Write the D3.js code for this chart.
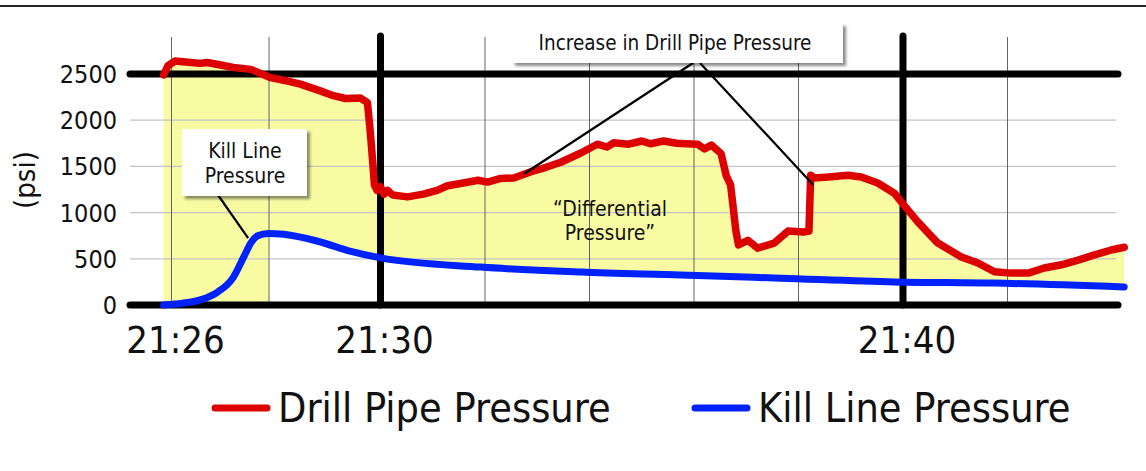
<!DOCTYPE html>
<html>
<head>
<meta charset="utf-8">
<script src="https://cdn.jsdelivr.net/npm/d3@7"></script>
<style>
  body { margin: 0; background: #fff; }
  text { font-family: "DejaVu Sans Condensed", "DejaVu Sans", sans-serif; fill: #111; }
</style>
</head>
<body>
<script>
"use strict";

// drill pipe pressure (psi)
var drillTimes = ["21:25:51","21:25:56","21:26:04","21:26:16","21:26:33","21:26:41","21:26:55","21:27:11","21:27:31","21:27:54",
  "21:28:10","21:28:28","21:28:50","21:29:06","21:29:20","21:29:37","21:29:45","21:29:48","21:29:51","21:29:53",
  "21:29:56","21:30:00","21:30:04","21:30:08","21:30:14","21:30:31","21:30:49","21:31:05","21:31:17","21:31:35",
  "21:31:52","21:32:03","21:32:18","21:32:33","21:32:52","21:33:10","21:33:27","21:33:50","21:34:09","21:34:20",
  "21:34:28","21:34:45","21:35:00","21:35:10","21:35:25","21:35:40","21:36:04","21:36:12","21:36:20","21:36:31",
  "21:36:37","21:36:42","21:36:48","21:36:51","21:37:02","21:37:13","21:37:32","21:37:48","21:38:06","21:38:12",
  "21:38:14","21:38:18","21:38:34","21:38:57","21:39:12","21:39:31","21:39:50","21:40:01","21:40:17","21:40:40",
  "21:41:07","21:41:26","21:41:45","21:42:04","21:42:24","21:42:42","21:43:02","21:43:21","21:43:39","21:43:59","21:44:14"];
var drillPsi = [2490,2590,2640,2630,2615,2625,2600,2570,2550,2460,
  2430,2390,2320,2265,2235,2240,2190,1900,1560,1300,
  1240,1280,1200,1240,1190,1170,1200,1240,1290,1320,
  1350,1330,1370,1375,1440,1490,1545,1645,1740,1710,
  1755,1740,1775,1745,1775,1750,1740,1690,1730,1640,
  1400,1300,810,650,700,615,670,800,790,800,
  1405,1375,1385,1405,1385,1320,1210,1080,900,670,
  520,455,360,345,345,400,435,485,540,595,625];

// kill line pressure (psi)
var killTimes = ["21:25:51","21:26:04","21:26:33","21:26:53","21:27:11","21:27:23","21:27:31","21:27:39","21:27:51","21:28:09",
  "21:28:48","21:29:26","21:30:00","21:31:55","21:33:50","21:35:45","21:37:40","21:39:50","21:41:45","21:44:14"];
var killPsi = [0,10,55,140,300,520,670,750,775,765,
  690,580,510,410,357,325,290,250,237,195];

var yTicks = [0, 500, 1000, 1500, 2000, 2500];
var boldY = [0, 2500];
var gridTimes = ["21:26","21:27:52","21:30","21:32","21:34","21:36","21:38","21:40","21:42"];
var boldTimes = ["21:30","21:40"];
var labelTimes = ["21:26","21:30","21:40"];
var fillSplit = "21:27:52"; // fill reaches down to zero before this
var killTarget = ["21:27:28", 725];
var increaseTargets = [["21:32:45", 1420], ["21:38:17", 1300]];

var parseT = function (s) {
  return d3.timeParse(s.length > 5 ? "%H:%M:%S" : "%H:%M")(s);
};

var width = 1146, height = 471;
var plotLeft = 130, plotRight = 1118, plotTop = 36;

var svg = d3.select("body").append("svg").attr("width", width).attr("height", height);

var defs = svg.append("defs");
defs.append("filter").attr("id", "shadow").attr("x", "-10%").attr("y", "-20%").attr("width", "130%").attr("height", "160%")
  .append("feDropShadow").attr("dx", 3).attr("dy", 3).attr("stdDeviation", 1.5)
  .attr("flood-color", "#000").attr("flood-opacity", 0.45);

var xScale = d3.scaleTime().domain([parseT("21:30"), parseT("21:40")]).range([380.5, 903]);
var yScale = d3.scaleLinear().domain([0, 2500]).range([305, 74]);

var drill = drillTimes.map(function (t, i) { return { t: parseT(t), v: drillPsi[i] }; });
var kill = killTimes.map(function (t, i) { return { t: parseT(t), v: killPsi[i] }; });

var killLine = d3.line().x(function (d) { return xScale(d.t); }).y(function (d) { return yScale(d.v); }).curve(d3.curveMonotoneX);
var drillLine = d3.line().x(function (d) { return xScale(d.t); }).y(function (d) { return yScale(d.v); }).curve(d3.curveLinear);

// top rule
svg.append("line").attr("x1", 0).attr("x2", width).attr("y1", 6).attr("y2", 6).attr("stroke", "#222").attr("stroke-width", 2);

// linear lookup in a series
var valueAt = function (series, t) {
  var i = d3.bisectLeft(series.map(function (d) { return d.t; }), t);
  if (i <= 0) return series[0].v;
  if (i >= series.length) return series[series.length - 1].v;
  var a = series[i - 1], b = series[i];
  return a.v + (b.v - a.v) * (t - a.t) / (b.t - a.t);
};

// yellow differential area: down to zero before the split, down to kill line after
var splitT = parseT(fillSplit);
var splitPt = { t: splitT, v: valueAt(drill, splitT) };
var before = drill.filter(function (d) { return d.t < splitT; }).concat([splitPt]);
var after = [splitPt].concat(drill.filter(function (d) { return d.t > splitT; }));
var areaX = function (d) { return xScale(d.t); };
var areaTop = function (d) { return yScale(d.v); };
svg.append("path").datum(before)
  .attr("d", d3.area().x(areaX).y1(areaTop).y0(yScale(0)))
  .attr("fill", "#f8fba2");
svg.append("path").datum(after)
  .attr("d", d3.area().x(areaX).y1(areaTop).y0(function (d) { return yScale(valueAt(kill, d.t)); }))
  .attr("fill", "#f8fba2");

// horizontal gridlines
svg.append("g").selectAll("line").data(yTicks.filter(function (v) { return boldY.indexOf(v) < 0; })).enter().append("line")
  .attr("x1", plotLeft).attr("x2", plotRight - 2).attr("y1", function (d) { return yScale(d); }).attr("y2", function (d) { return yScale(d); })
  .attr("stroke", "#c4c4c4").attr("stroke-width", 1.2);

// vertical gridlines
svg.append("g").selectAll("line").data(gridTimes.filter(function (t) { return boldTimes.indexOf(t) < 0; })).enter().append("line")
  .attr("x1", function (d) { return xScale(parseT(d)); }).attr("x2", function (d) { return xScale(parseT(d)); })
  .attr("y1", plotTop + 1).attr("y2", yScale(0)).attr("stroke", "#666").attr("stroke-width", 1);

// bold frame lines
svg.append("g").selectAll("line").data(boldTimes).enter().append("line")
  .attr("x1", function (d) { return xScale(parseT(d)); }).attr("x2", function (d) { return xScale(parseT(d)); })
  .attr("y1", plotTop).attr("y2", yScale(0)).attr("stroke", "#000").attr("stroke-width", 7).attr("stroke-linecap", "round");
svg.append("g").selectAll("line").data(boldY).enter().append("line")
  .attr("x1", plotLeft).attr("x2", plotRight).attr("y1", function (d) { return yScale(d); }).attr("y2", function (d) { return yScale(d); })
  .attr("stroke", "#000").attr("stroke-width", 7).attr("stroke-linecap", "round");

// y axis labels
svg.append("g").selectAll("text").data(yTicks).enter().append("text")
  .attr("x", 117).attr("y", function (d) { return yScale(d); }).attr("dy", "0.36em")
  .attr("text-anchor", "end").attr("font-size", 25).text(function (d) { return d; });

svg.append("text").attr("transform", "translate(35,180) rotate(-90)").attr("text-anchor", "middle")
  .attr("font-size", 29).text("(psi)");

// x axis labels
svg.append("g").selectAll("text").data(labelTimes).enter().append("text")
  .attr("x", function (d) { return xScale(parseT(d)) + 4; }).attr("y", 353)
  .attr("text-anchor", "middle").attr("font-size", 38).text(function (d) { return d; });

// series
svg.append("path").datum(kill).attr("d", killLine).attr("fill", "none").attr("stroke", "#0022ff")
  .attr("stroke-width", 7).attr("stroke-linecap", "round").attr("stroke-linejoin", "round");
svg.append("path").datum(drill).attr("d", drillLine).attr("fill", "none").attr("stroke", "#dd0000")
  .attr("stroke-width", 7.5).attr("stroke-linecap", "round").attr("stroke-linejoin", "round");

// callouts
var kx = xScale(parseT(killTarget[0])), ky = yScale(killTarget[1]);
svg.append("line").attr("x1", 218).attr("y1", 195).attr("x2", kx).attr("y2", ky).attr("stroke", "#000").attr("stroke-width", 2.2);
svg.append("rect").attr("x", 182).attr("y", 129).attr("width", 125).attr("height", 67).attr("fill", "#fff").attr("filter", "url(#shadow)");
svg.append("text").attr("x", 245).attr("y", 158).attr("text-anchor", "middle").attr("font-size", 21).text("Kill Line");
svg.append("text").attr("x", 245).attr("y", 183).attr("text-anchor", "middle").attr("font-size", 21).text("Pressure");

increaseTargets.forEach(function (p, i) {
  svg.append("line").attr("x1", i === 0 ? 693 : 700).attr("y1", 63)
    .attr("x2", xScale(parseT(p[0]))).attr("y2", yScale(p[1])).attr("stroke", "#000").attr("stroke-width", 2.2);
});
svg.append("rect").attr("x", 512).attr("y", 23).attr("width", 331).attr("height", 40).attr("fill", "#fff").attr("filter", "url(#shadow)");
svg.append("text").attr("x", 675).attr("y", 50).attr("text-anchor", "middle").attr("font-size", 20.5).text("Increase in Drill Pipe Pressure");

svg.append("text").attr("x", 610).attr("y", 216).attr("text-anchor", "middle").attr("font-size", 21).text("\u201cDifferential");
svg.append("text").attr("x", 610).attr("y", 240).attr("text-anchor", "middle").attr("font-size", 21).text("Pressure\u201d");

// legend
var legend = [["Drill Pipe Pressure", "#dd0000", 215], ["Kill Line Pressure", "#0022ff", 695]];
legend.forEach(function (d) {
  svg.append("line").attr("x1", d[2]).attr("x2", d[2] + 52).attr("y1", 408).attr("y2", 408)
    .attr("stroke", d[1]).attr("stroke-width", 7).attr("stroke-linecap", "round");
  svg.append("text").attr("x", d[2] + 63).attr("y", 422).attr("font-size", 41).text(d[0]);
});
</script>
</body>
</html>
